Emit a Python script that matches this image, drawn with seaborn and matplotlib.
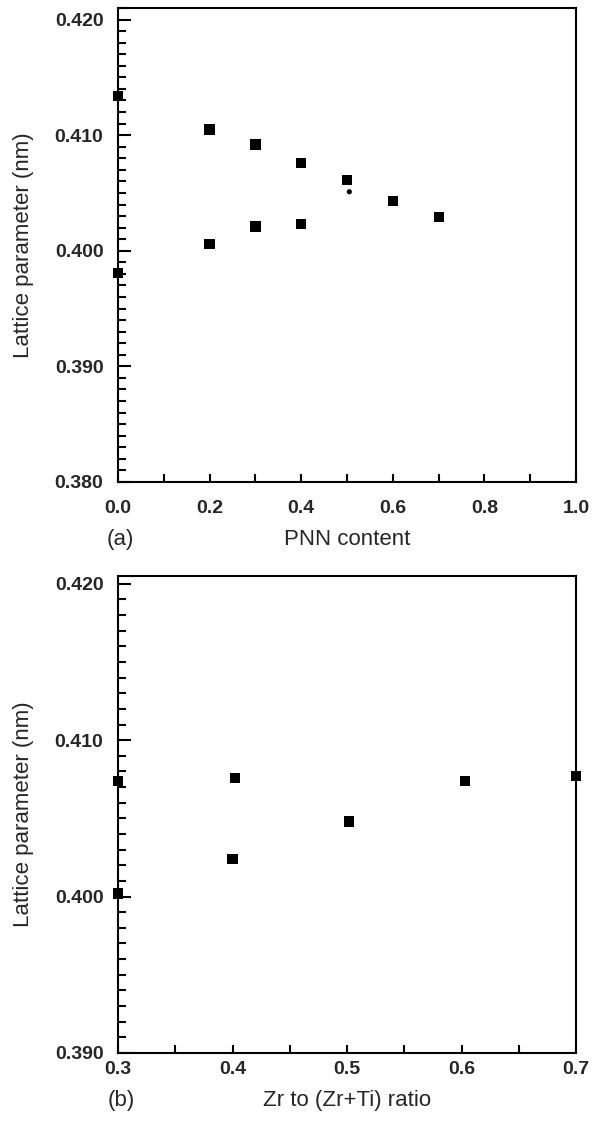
import numpy as np
import pandas as pd
import matplotlib
matplotlib.use("Agg")
import matplotlib.pyplot as plt
import seaborn as sns
from matplotlib.ticker import MultipleLocator

# panel (a): lattice parameter vs PNN content
pnn_x = [0.0, 0.2, 0.3, 0.4, 0.5, 0.6, 0.7, 0.0, 0.2, 0.3, 0.4]
pnn_y = [0.4134, 0.4105, 0.4092, 0.4076, 0.4061, 0.4043, 0.4029,
         0.3981, 0.4006, 0.4021, 0.4023]
dot_x = [0.505]
dot_y = [0.4051]

# panel (b): lattice parameter vs Zr/(Zr+Ti)
zr_x = [0.3, 0.3, 0.402, 0.40, 0.502, 0.603, 0.7]
zr_y = [0.4074, 0.4002, 0.4076, 0.4024, 0.4048, 0.4074, 0.4077]

sns.set_style("ticks")
plt.rcParams['font.family'] = ['Liberation Sans', 'DejaVu Sans']

fig = plt.figure(figsize=(6.1, 11.24), dpi=100)
ax1 = fig.add_axes([0.1934, 0.5712, 0.751, 0.4217])
ax2 = fig.add_axes([0.1934, 0.0632, 0.751, 0.4244])

df_a = pd.DataFrame({"x": pnn_x, "y": pnn_y})
df_b = pd.DataFrame({"x": zr_x, "y": zr_y})

sns.scatterplot(data=df_a, x="x", y="y", ax=ax1, marker="s", s=55,
                color="black", edgecolor="none", clip_on=False, zorder=5)
sns.scatterplot(x=dot_x, y=dot_y, ax=ax1, marker="o", s=14,
                color="black", edgecolor="none", zorder=5)
sns.scatterplot(data=df_b, x="x", y="y", ax=ax2, marker="s", s=55,
                color="black", edgecolor="none", clip_on=False, zorder=5)

ax1.set_xlim(0, 1.0)
ax1.set_ylim(0.380, 0.421)
ax1.xaxis.set_minor_locator(MultipleLocator(0.1))
ax1.yaxis.set_minor_locator(MultipleLocator(0.001))
ax1.set_xticks([0.0, 0.2, 0.4, 0.6, 0.8, 1.0])
ax1.set_xticklabels(["0.0", "0.2", "0.4", "0.6", "0.8", "1.0"])
ax1.set_yticks([0.380, 0.390, 0.400, 0.410, 0.420])
ax1.set_yticklabels(["0.380", "0.390", "0.400", "0.410", "0.420"])

ax2.set_xlim(0.3, 0.7)
ax2.set_ylim(0.390, 0.4205)
ax2.xaxis.set_minor_locator(MultipleLocator(0.05))
ax2.yaxis.set_minor_locator(MultipleLocator(0.001))
ax2.set_xticks([0.3, 0.4, 0.5, 0.6, 0.7])
ax2.set_xticklabels(["0.3", "0.4", "0.5", "0.6", "0.7"])
ax2.set_yticks([0.390, 0.400, 0.410, 0.420])
ax2.set_yticklabels(["0.390", "0.400", "0.410", "0.420"])

for ax in (ax1, ax2):
    for sp in ax.spines.values():
        sp.set_visible(True)
        sp.set_linewidth(1.5)
        sp.set_color("black")
    ax.tick_params(axis="both", which="both", direction="in",
                   top=False, right=False, width=1.5, color="black")
    ax.tick_params(axis="y", which="major", length=9, pad=10.5)
    ax.tick_params(axis="y", which="minor", length=6)
    ax.tick_params(axis="x", which="both", length=6)
    for lab in ax.get_xticklabels() + ax.get_yticklabels():
        lab.set_fontsize(14)
        lab.set_fontweight("bold")
    ax.set_ylabel("Lattice parameter (nm)", fontsize=16)
    ax.yaxis.set_label_coords(-0.184, 0.5)

ax1.tick_params(axis="x", which="major", pad=13)
ax2.tick_params(axis="x", which="major", pad=6)

ax1.set_xlabel("PNN content", fontsize=16)
ax1.xaxis.set_label_coords(0.5, -0.100)
ax2.set_xlabel("Zr to (Zr+Ti) ratio", fontsize=16)
ax2.xaxis.set_label_coords(0.5, -0.077)
ax1.text(-0.024, -0.100, "(a)", transform=ax1.transAxes, fontsize=16,
         ha="left", va="top")
ax2.text(-0.022, -0.077, "(b)", transform=ax2.transAxes, fontsize=16,
         ha="left", va="top")

fig.savefig("out.png", dpi=100)
